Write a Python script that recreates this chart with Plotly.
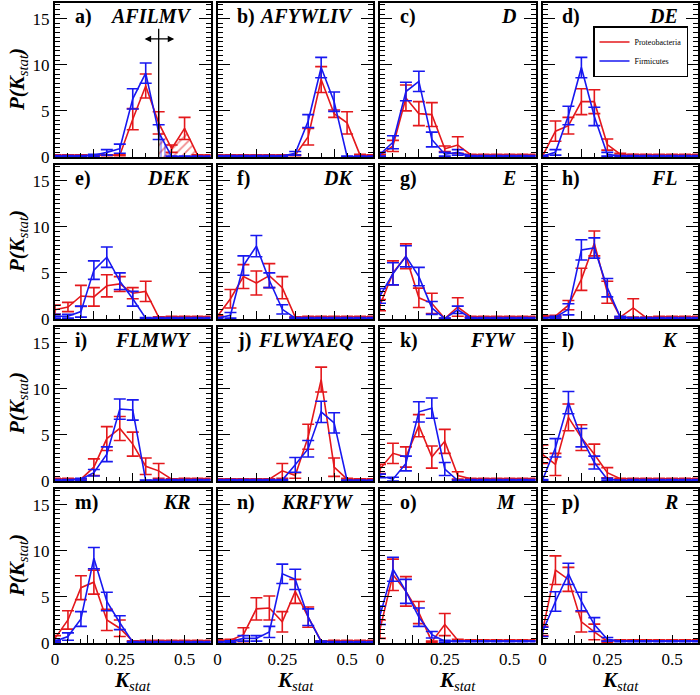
import plotly.graph_objects as go
from plotly.subplots import make_subplots

# ---------------- data ----------------
K_STAT = [0.0, 0.05, 0.10, 0.15, 0.20, 0.25, 0.30, 0.35, 0.40, 0.45, 0.50, 0.55, 0.60]
PANEL_LETTERS = ["a)", "b)", "c)", "d)", "e)", "f)", "g)", "h)",
                 "i)", "j)", "k)", "l)", "m)", "n)", "o)", "p)"]
PANEL_SETS = ["AFILMV", "AFYWLIV", "D", "DE", "DEK", "DK", "E", "FL",
              "FLMWY", "FLWYAEQ", "FYW", "K", "KR", "KRFYW", "M", "R"]
SERIES_NAMES = ["Proteobacteria", "Firmicutes"]
X_TICK_VALUES = [0, 0.125, 0.25, 0.375, 0.5]
X_TICK_TEXT = ["0", "", "0.25", "", "0.5"]
X_TICK_VALUES_UPPER = [0.15, 0.30, 0.45]
Y_TICK_VALUES = [0, 5, 10, 15]
AFILMV_THRESHOLD = 0.40
AFILMV_ARROW = [0.34, 0.46, 12.8]

# a) AFILMV
a_red = [0.2, 0.2, 0.2, 0.2, 0.2, 0.2, 4.1, 7.7, 3.7, 0.9, 3.1, 0.2, 0.2]
a_red_err = [0.05, 0.05, 0.05, 0.05, 0.05, 0.05, 1.15, 1.3, 1.2, 0.4, 1.2, 0.05, 0.05]
a_blue = [0.1, 0.1, 0.1, 0.2, 0.5, 0.9, 6.3, 9.1, 2.7, 0.05, 0.05, 0.05, 0.05]
a_blue_err = [0.05, 0.05, 0.05, 0.1, 0.3, 0.5, 1.1, 1.1, 0.8, 0.05, 0.05, 0.05, 0.05]
# b) AFYWLIV
b_red = [0.2, 0.2, 0.2, 0.2, 0.2, 0.2, 0.2, 2.2, 8.4, 4.7, 3.7, 0.2, 0.2]
b_red_err = [0.05, 0.05, 0.05, 0.05, 0.05, 0.05, 0.05, 0.9, 1.4, 0.4, 1.2, 0.1, 0.05]
b_blue = [0.1, 0.1, 0.1, 0.1, 0.1, 0.1, 0.4, 3.9, 9.7, 6.0, 0.05, 0.05, 0.05]
b_blue_err = [0.05, 0.05, 0.05, 0.05, 0.05, 0.05, 0.2, 0.7, 1.1, 1.05, 0.05, 0.05, 0.05]
# c) D
c_red = [0.2, 1.2, 6.4, 4.7, 4.6, 0.9, 1.3, 0.25, 0.25, 0.25, 0.25, 0.25, 0.25]
c_red_err = [0.1, 0.6, 1.4, 1.3, 1.3, 0.3, 0.9, 0.05, 0.05, 0.05, 0.05, 0.05, 0.05]
c_blue = [0.3, 1.6, 7.1, 8.2, 1.9, 0.3, 0.5, 0.1, 0.1, 0.1, 0.1, 0.1, 0.1]
c_blue_err = [0.2, 0.7, 1.0, 1.1, 0.8, 0.2, 0.3, 0.05, 0.05, 0.05, 0.05, 0.05, 0.05]
# d) DE
d_red = [0.1, 2.8, 3.4, 6.0, 6.0, 1.35, 0.3, 0.25, 0.25, 0.25, 0.25, 0.25, 0.25]
d_red_err = [0.05, 1.1, 0.9, 1.4, 1.3, 0.6, 0.1, 0.05, 0.05, 0.05, 0.05, 0.05, 0.05]
d_blue = [0.1, 0.5, 4.5, 9.7, 4.4, 0.3, 0.1, 0.1, 0.1, 0.1, 0.1, 0.1, 0.1]
d_blue_err = [0.05, 0.3, 1.0, 1.1, 1.0, 0.2, 0.05, 0.05, 0.05, 0.05, 0.05, 0.05, 0.05]
# e) DEK
e_red = [1.0, 1.3, 2.5, 2.4, 3.6, 3.8, 2.8, 3.0, 0.2, 0.25, 0.25, 0.25, 0.25]
e_red_err = [0.5, 0.5, 1.15, 1.0, 1.2, 0.8, 0.6, 1.1, 0.05, 0.05, 0.05, 0.05, 0.05]
e_blue = [0.3, 0.3, 0.8, 5.3, 6.7, 4.1, 2.2, 0.1, 0.1, 0.1, 0.1, 0.1, 0.1]
e_blue_err = [0.2, 0.2, 0.6, 1.0, 1.1, 0.9, 0.8, 0.05, 0.05, 0.05, 0.05, 0.05, 0.05]
# f) DK
f_red = [0.3, 2.2, 4.6, 3.9, 4.7, 3.4, 0.2, 0.25, 0.25, 0.25, 0.25, 0.25, 0.25]
f_red_err = [0.1, 1.0, 1.3, 1.3, 1.3, 1.2, 0.05, 0.05, 0.05, 0.05, 0.05, 0.05, 0.05]
f_blue = [0.1, 0.4, 5.8, 7.9, 4.2, 1.05, 0.1, 0.1, 0.1, 0.1, 0.1, 0.1, 0.1]
f_blue_err = [0.05, 0.3, 1.05, 1.15, 0.8, 0.5, 0.05, 0.05, 0.05, 0.05, 0.05, 0.05, 0.05]
# g) E
g_red = [1.5, 5.0, 6.8, 2.3, 1.7, 0.05, 1.3, 0.25, 0.25, 0.25, 0.25, 0.25, 0.25]
g_red_err = [0.6, 1.3, 1.35, 1.05, 1.1, 0.05, 1.0, 0.05, 0.05, 0.05, 0.05, 0.05, 0.05]
g_blue = [2.5, 4.9, 6.8, 4.6, 1.2, 0.05, 1.0, 0.1, 0.1, 0.1, 0.1, 0.1, 0.1]
g_blue_err = [0.8, 1.2, 1.15, 1.0, 0.7, 0.05, 0.4, 0.05, 0.05, 0.05, 0.05, 0.05, 0.05]
# h) FL
h_red = [0.3, 0.3, 1.5, 4.3, 8.2, 2.9, 0.2, 1.2, 0.15, 0.25, 0.25, 0.25, 0.25]
h_red_err = [0.1, 0.1, 0.5, 1.2, 1.35, 1.2, 0.05, 1.0, 0.05, 0.05, 0.05, 0.05, 0.05]
h_blue = [0.1, 0.2, 1.05, 7.5, 7.7, 3.4, 0.2, 0.1, 0.1, 0.1, 0.1, 0.1, 0.1]
h_blue_err = [0.05, 0.1, 0.6, 1.1, 1.1, 1.0, 0.1, 0.05, 0.05, 0.05, 0.05, 0.05, 0.05]
# i) FLMWY
i_red = [0.25, 0.25, 0.2, 1.5, 4.6, 5.7, 4.0, 1.6, 1.1, 0.2, 0.25, 0.25, 0.25]
i_red_err = [0.05, 0.05, 0.05, 0.9, 1.3, 1.3, 1.3, 0.9, 0.8, 0.05, 0.05, 0.05, 0.05]
i_blue = [0.1, 0.1, 0.2, 0.9, 2.9, 7.8, 7.7, 0.05, 0.1, 0.1, 0.1, 0.1, 0.1]
i_blue_err = [0.05, 0.05, 0.1, 0.35, 0.8, 1.1, 1.1, 0.05, 0.05, 0.05, 0.05, 0.05, 0.05]
# j) FLWYAEQ
j_red = [0.2, 0.2, 0.2, 0.2, 0.2, 1.1, 0.6, 4.8, 11.0, 1.5, 0.2, 0.2, 0.2]
j_red_err = [0.05, 0.05, 0.05, 0.05, 0.05, 0.8, 0.3, 1.35, 1.35, 1.0, 0.1, 0.05, 0.05]
j_blue = [0.1, 0.1, 0.1, 0.1, 0.1, 0.1, 1.75, 3.5, 7.5, 6.3, 0.05, 0.05, 0.05]
j_blue_err = [0.05, 0.05, 0.05, 0.05, 0.05, 0.05, 0.8, 0.9, 1.15, 1.1, 0.05, 0.05, 0.05]
# k) FYW
k_red = [1.3, 3.0, 2.6, 6.0, 2.6, 4.3, 0.6, 0.25, 0.25, 0.25, 0.25, 0.25, 0.25]
k_red_err = [0.5, 1.1, 1.1, 1.2, 1.2, 1.3, 0.4, 0.05, 0.05, 0.05, 0.05, 0.05, 0.05]
k_blue = [0.55, 0.2, 1.9, 7.5, 7.9, 1.3, 0.05, 0.1, 0.1, 0.1, 0.1, 0.1, 0.1]
k_blue_err = [0.2, 0.2, 0.8, 1.1, 1.1, 0.7, 0.05, 0.05, 0.05, 0.05, 0.05, 0.05, 0.05]
# l) K
l_red = [2.9, 1.8, 6.9, 4.7, 2.9, 0.9, 0.25, 0.25, 0.25, 0.25, 0.25, 0.25, 0.25]
l_red_err = [1.0, 1.2, 1.45, 1.4, 1.1, 0.55, 0.05, 0.05, 0.05, 0.05, 0.05, 0.05, 0.05]
l_blue = [0.1, 3.6, 8.5, 4.7, 2.0, 0.2, 0.05, 0.1, 0.1, 0.1, 0.1, 0.1, 0.1]
l_blue_err = [0.05, 1.0, 1.2, 1.0, 0.7, 0.1, 0.05, 0.05, 0.05, 0.05, 0.05, 0.05, 0.05]
# m) KR
m_red = [0.5, 2.5, 6.0, 6.6, 2.5, 1.6, 0.2, 0.25, 0.25, 0.25, 0.25, 0.25, 0.25]
m_red_err = [0.3, 1.0, 1.3, 1.3, 1.15, 0.9, 0.05, 0.05, 0.05, 0.05, 0.05, 0.05, 0.05]
m_blue = [0.2, 0.7, 2.6, 9.2, 4.5, 2.2, 0.1, 0.1, 0.1, 0.1, 0.1, 0.1, 0.1]
m_blue_err = [0.1, 0.4, 0.8, 1.15, 1.0, 0.75, 0.05, 0.05, 0.05, 0.05, 0.05, 0.05, 0.05]
# n) KRFYW
n_red = [0.3, 0.3, 0.9, 3.7, 3.8, 2.3, 5.6, 2.8, 0.2, 0.25, 0.25, 0.25, 0.25]
n_red_err = [0.1, 0.1, 0.75, 1.2, 1.3, 1.1, 1.3, 1.1, 0.05, 0.05, 0.05, 0.05, 0.05]
n_blue = [0.1, 0.15, 0.5, 0.5, 1.2, 7.5, 6.9, 2.8, 0.15, 0.1, 0.1, 0.1, 0.1]
n_blue_err = [0.05, 0.1, 0.3, 0.3, 0.6, 1.05, 1.1, 0.9, 0.05, 0.05, 0.05, 0.05, 0.05]
# o) M
o_red = [1.5, 7.4, 5.6, 3.3, 0.15, 2.0, 0.3, 0.3, 0.3, 0.3, 0.3, 0.3, 0.3]
o_red_err = [1.0, 1.7, 1.6, 1.2, 0.05, 1.2, 0.1, 0.05, 0.05, 0.05, 0.05, 0.05, 0.05]
o_blue = [3.0, 8.0, 5.6, 2.8, 0.9, 0.2, 0.2, 0.2, 0.2, 0.2, 0.2, 0.2, 0.2]
o_blue_err = [1.0, 1.3, 1.3, 1.0, 0.35, 0.1, 0.05, 0.05, 0.05, 0.05, 0.05, 0.05, 0.05]
# p) R
p_red = [1.3, 7.9, 6.9, 2.3, 1.2, 0.2, 0.3, 0.3, 0.3, 0.3, 0.3, 0.3, 0.3]
p_red_err = [0.5, 1.55, 1.3, 1.1, 0.85, 0.1, 0.05, 0.05, 0.05, 0.05, 0.05, 0.05, 0.05]
p_blue = [1.2, 4.5, 7.5, 4.5, 2.0, 0.4, 0.2, 0.2, 0.2, 0.2, 0.2, 0.2, 0.2]
p_blue_err = [0.5, 1.05, 1.15, 1.0, 0.75, 0.2, 0.05, 0.05, 0.05, 0.05, 0.05, 0.05, 0.05]

PANELS = [
    (a_red, a_red_err, a_blue, a_blue_err), (b_red, b_red_err, b_blue, b_blue_err),
    (c_red, c_red_err, c_blue, c_blue_err), (d_red, d_red_err, d_blue, d_blue_err),
    (e_red, e_red_err, e_blue, e_blue_err), (f_red, f_red_err, f_blue, f_blue_err),
    (g_red, g_red_err, g_blue, g_blue_err), (h_red, h_red_err, h_blue, h_blue_err),
    (i_red, i_red_err, i_blue, i_blue_err), (j_red, j_red_err, j_blue, j_blue_err),
    (k_red, k_red_err, k_blue, k_blue_err), (l_red, l_red_err, l_blue, l_blue_err),
    (m_red, m_red_err, m_blue, m_blue_err), (n_red, n_red_err, n_blue, n_blue_err),
    (o_red, o_red_err, o_blue, o_blue_err), (p_red, p_red_err, p_blue, p_blue_err),
]

# ---------------- style ----------------
RED = "rgb(228,24,28)"
BLUE = "rgb(24,24,240)"
FONT = "Liberation Serif, Times New Roman, serif"
W, H = 700, 695
ML, MR, MT, MB = 55, 2, 3, 52
PW, PH = W - ML - MR, H - MT - MB

fig = make_subplots(rows=4, cols=4,
                    horizontal_spacing=7 / PW, vertical_spacing=8 / PH)

for idx, (red, red_err, blue, blue_err) in enumerate(PANELS):
    r, c = idx // 4 + 1, idx % 4 + 1
    if idx == 0:
        # hatched areas to the right of the threshold
        fig.add_trace(go.Scatter(
            x=K_STAT[8:12], y=red[8:12], mode="none", fill="tozeroy",
            fillpattern=dict(shape="/", fgcolor=RED, bgcolor="rgba(0,0,0,0)",
                             size=6, solidity=0.3),
            showlegend=False, hoverinfo="skip"), row=r, col=c)
        fig.add_trace(go.Scatter(
            x=K_STAT[8:10], y=blue[8:10], mode="none", fill="tozeroy",
            fillpattern=dict(shape="|", fgcolor=BLUE, bgcolor="rgba(0,0,0,0)",
                             size=4, solidity=0.35),
            showlegend=False, hoverinfo="skip"), row=r, col=c)
    fig.add_trace(go.Scatter(
        x=K_STAT, y=red, mode="lines", name=SERIES_NAMES[0],
        line=dict(color=RED, width=1.6),
        error_y=dict(type="data", array=red_err, color=RED, thickness=1.6, width=6),
        showlegend=(idx == 0), legendgroup="red"), row=r, col=c)
    fig.add_trace(go.Scatter(
        x=K_STAT, y=blue, mode="lines", name=SERIES_NAMES[1],
        line=dict(color=BLUE, width=1.6),
        error_y=dict(type="data", array=blue_err, color=BLUE, thickness=1.6, width=6),
        showlegend=(idx == 0), legendgroup="blue"), row=r, col=c)

    xa = dict(range=[0, 0.6], showline=True, linecolor="black", linewidth=2,
              mirror=True, ticks="inside", ticklen=8, tickwidth=1.3,
              tickcolor="black", showgrid=False, zeroline=False, automargin=False,
              tickfont=dict(family=FONT, size=17, color="black"),
              minor=dict(tickmode="linear", tick0=0, dtick=0.05, ticks="inside",
                         ticklen=4, tickwidth=1, tickcolor="black", showgrid=False))
    if r == 4:
        xa.update(tickmode="array", tickvals=X_TICK_VALUES, ticktext=X_TICK_TEXT,
                  showticklabels=True)
    else:
        xa.update(tickmode="array", tickvals=X_TICK_VALUES_UPPER, showticklabels=False)
    fig.update_xaxes(row=r, col=c, **xa)

    fig.update_yaxes(row=r, col=c, range=[0, 16.7], showline=True, linecolor="black",
                     linewidth=2, mirror="ticks", ticks="inside", ticklen=12,
                     tickwidth=1.3, tickcolor="black", tickmode="array",
                     tickvals=Y_TICK_VALUES, showticklabels=(c == 1),
                     showgrid=False, zeroline=False, automargin=False,
                     tickfont=dict(family=FONT, size=17, color="black"),
                     minor=dict(tickmode="linear", tick0=0, dtick=0.5, ticks="inside",
                                ticklen=5, tickwidth=1, tickcolor="black",
                                showgrid=False))

    n = "" if idx == 0 else str(idx + 1)
    fig.add_annotation(xref=f"x{n} domain", yref=f"y{n} domain", x=0.115, y=0.915,
                       xanchor="left", yanchor="middle", showarrow=False,
                       text=f"<b>{PANEL_LETTERS[idx]}</b>",
                       font=dict(family=FONT, size=20, color="black"))
    fig.add_annotation(xref=f"x{n} domain", yref=f"y{n} domain", x=0.885, y=0.915,
                       xanchor="right", yanchor="middle", showarrow=False,
                       text=f"<b><i>{PANEL_SETS[idx]}</i></b>",
                       font=dict(family=FONT, size=20, color="black"))
    if c == 1:
        fig.add_annotation(xref="paper", yref=f"y{n} domain", x=-37 / PW, y=0.5,
                           xanchor="center", yanchor="middle", showarrow=False,
                           textangle=-90,
                           text="<b><i>P(K</i></b><sub><i>stat</i></sub><b><i>)</i></b>",
                           font=dict(family=FONT, size=21, color="black"))
    if r == 4:
        fig.add_annotation(xref=f"x{n} domain", yref="paper", x=0.5, y=-37.5 / PH,
                           xanchor="center", yanchor="middle", showarrow=False,
                           text="<b><i>K</i></b><sub><i>stat</i></sub>",
                           font=dict(family=FONT, size=21, color="black"))

# threshold marker in panel a
fig.add_shape(type="line", xref="x", yref="y", x0=AFILMV_THRESHOLD, x1=AFILMV_THRESHOLD,
              y0=0, y1=13.9, line=dict(color="black", width=1.3))
fig.add_annotation(xref="x", yref="y", axref="x", ayref="y",
                   x=AFILMV_ARROW[1], y=AFILMV_ARROW[2],
                   ax=AFILMV_ARROW[0], ay=AFILMV_ARROW[2],
                   text="", showarrow=True, arrowside="end+start",
                   arrowhead=2, arrowsize=1, arrowwidth=1.3, arrowcolor="black")

fig.update_layout(
    width=W, height=H, margin=dict(l=ML, r=MR, t=MT, b=MB),
    plot_bgcolor="white", paper_bgcolor="white",
    font=dict(family=FONT, color="black"),
    legend=dict(x=(593 - ML) / PW, y=(H - MB - 26) / PH, xanchor="left", yanchor="top",
                bgcolor="white", bordercolor="black", borderwidth=1.5,
                font=dict(family=FONT, size=8, color="black"),
                itemwidth=30, tracegroupgap=0),
)

fig.write_html("out.html", config={"displayModeBar": False},
               post_script="document.body.style.margin='0';document.body.style.overflow='hidden';")
